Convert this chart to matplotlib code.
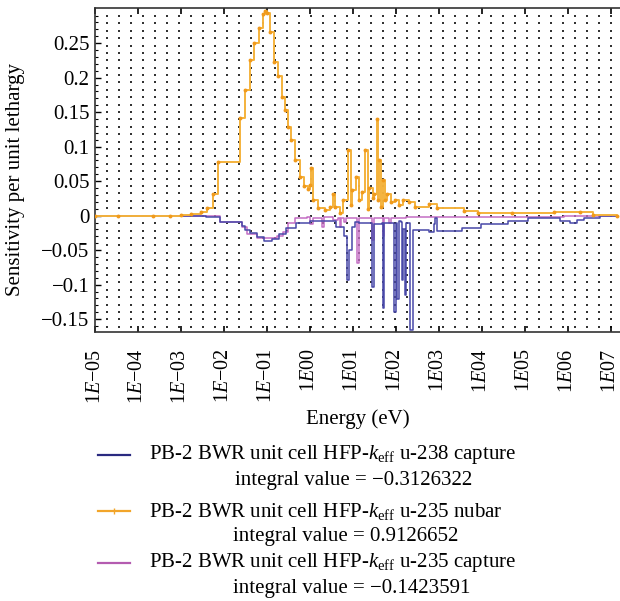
import numpy as np
import matplotlib
matplotlib.use('Agg')
import matplotlib.pyplot as plt
from matplotlib.lines import Line2D

plt.rcParams['font.family'] = 'Liberation Serif'
plt.rcParams['mathtext.fontset'] = 'custom'
plt.rcParams['mathtext.rm'] = 'Liberation Serif'
plt.rcParams['mathtext.it'] = 'Liberation Serif:italic'

# energies in eV, sensitivities per unit lethargy
nubar_e = [1e-05, 3.4e-05, 2.2e-04, 5.5e-04, 1.0e-03, 1.7e-03, 2.9e-03, 4.1e-03,
           5.5e-03, 7.3e-03, 2.4e-02, 3.1e-02, 4.0e-02, 5.0e-02, 6.4e-02, 8.2e-02,
           9.1e-02, 1.0e-01, 1.18e-01, 1.45e-01, 1.8e-01, 2.2e-01, 2.6e-01, 3.1e-01,
           3.6e-01, 4.6e-01, 6.0e-01, 7.4e-01, 9.1e-01, 1.0e00, 1.08e00, 1.17e00,
           1.5e00, 2.2e00, 2.9e00, 3.4e00, 3.8e00, 4.9e00, 5.8e00, 7.8e00,
           9.1e00, 9.6e00, 1.19e01, 1.4e01, 1.65e01, 1.9e01, 2.2e01, 2.4e01,
           2.9e01, 3.0e01, 3.6e01, 3.8e01, 4.1e01, 4.6e01, 5.1e01, 5.7e01,
           6.3e01, 7.5e01, 9.4e01, 1.17e02, 1.45e02, 2.0e02, 2.8e02, 6.0e02,
           9.0e02, 3.8e03, 8.2e03, 5.0e04, 4.8e05, 1.9e06, 3.8e06, 1.4e07]
nubar_s = [0.0, 0.0, 0.0, 0.0, 0.001, 0.003, 0.006, 0.011,
           0.031, 0.078, 0.141, 0.182, 0.225, 0.25, 0.272, 0.292,
           0.296, 0.294, 0.266, 0.223, 0.202, 0.172, 0.153, 0.129,
           0.11, 0.081, 0.056, 0.043, 0.039, 0.045, 0.069, 0.023,
           0.011, 0.008, 0.012, 0.032, 0.013, 0.004, 0.023, 0.095,
           0.016, 0.037, 0.056, 0.023, 0.034, 0.095, 0.01, 0.04,
           0.025, 0.032, 0.14, 0.023, 0.081, 0.012, 0.052, 0.022,
           0.032, 0.02, 0.023, 0.015, 0.022, 0.02, 0.013, 0.017,
           0.011, 0.007, 0.004, 0.004, 0.006, 0.005, 0.001, 0.0]

u238_e = [1e-05, 1.0e-03, 3.8e-03, 8.2e-03, 2.6e-02, 3.1e-02, 4.0e-02, 5.9e-02,
          8.6e-02, 1.3e-01, 1.9e-01, 2.7e-01, 4.7e-01, 1.0e00, 2.9e00, 4.1e00,
          6.3e00, 7.2e00, 8.2e00, 9.6e00, 1.1e01, 1.36e01, 2.5e01, 2.7e01,
          3.0e01, 4.7e01, 5.0e01, 5.3e01, 8.6e01, 9.1e01, 1.0e02, 1.08e02,
          1.2e02, 1.32e02, 1.38e02, 1.45e02, 1.6e02, 1.75e02, 2.15e02, 2.5e02,
          3.4e02, 6.0e02, 7.6e02, 8.2e02, 9.0e02, 3.4e03, 9.4e03, 4.1e04,
          1.2e05, 3.5e05, 6.7e05, 1.1e06, 1.6e06, 2.3e06, 5.5e06, 1.4e07]
u238_s = [-0.0005, -0.0008, -0.002, -0.0087, -0.015, -0.021, -0.025, -0.031,
          -0.036, -0.034, -0.026, -0.018, -0.011, -0.008, -0.008, -0.016,
          -0.030, -0.093, -0.05, -0.016, -0.009, -0.010, -0.010, -0.103,
          -0.012, -0.010, -0.134, -0.010, -0.010, -0.139, -0.010, -0.121,
          -0.008, -0.009, -0.093, -0.02, -0.115, -0.010, -0.166, -0.021,
          -0.021, -0.023, -0.012, -0.003, -0.022, -0.018, -0.012, -0.007,
          -0.004, -0.004, -0.007, -0.010, -0.006, -0.004, -0.0005, 0.0]

u235_e = [1e-05, 2.9e-03, 8.2e-03, 2.6e-02, 3.4e-02, 5.9e-02, 1.0e-01, 1.7e-01,
          2.4e-01, 3.1e-01, 4.6e-01, 8.4e-01, 1.0e00, 1.15e00, 1.9e00, 2.1e00,
          3.4e00, 4.6e00, 5.0e00, 5.4e00, 6.3e00, 7.0e00, 1.2e01, 1.25e01,
          1.4e01, 2.5e01, 2.7e01, 3.0e01, 4.7e01, 5.0e01, 5.3e01, 7.0e01,
          7.8e01, 9.9e01, 1.7e02, 2.5e03, 8.3e05, 1.4e07]
u235_s = [0.0, -0.001, -0.009, -0.016, -0.027, -0.033, -0.033, -0.030,
          -0.023, -0.011, -0.004, -0.002, -0.012, -0.003, -0.016, -0.002,
          -0.006, -0.003, -0.016, -0.004, -0.009, -0.003, -0.004, -0.069,
          -0.004, -0.004, -0.035, -0.004, -0.004, -0.030, -0.004, -0.011,
          -0.003, -0.003, -0.002, -0.002, -0.001, 0.0]

labels = [("PB-2 BWR unit cell HFP-$k_{\\mathrm{eff}}$ u-238 capture", "integral value = \u22120.3126322"),
          ("PB-2 BWR unit cell HFP-$k_{\\mathrm{eff}}$ u-235 nubar", "integral value = 0.9126652"),
          ("PB-2 BWR unit cell HFP-$k_{\\mathrm{eff}}$ u-235 capture", "integral value = \u22120.1423591")]
colors = ['#4848a8', '#f4b23c', '#c46ec4']
xticks = [10.0 ** k for k in range(-5, 8)]
xticklabels = ['1$E$\u2212%02d' % -k if k < 0 else '1$E$%02d' % k for k in range(-5, 8)]
yticks = [-0.15, -0.1, -0.05, 0, 0.05, 0.1, 0.15, 0.2, 0.25]
yticklabels = ['\u22120.15', '\u22120.1', '\u22120.05', '0', '0.05', '0.1', '0.15', '0.2', '0.25']

W, H = 620, 601
fig = plt.figure(figsize=(W / 100, H / 100), dpi=100)
ax = fig.add_axes([95 / W, 1 - 332 / H, (W - 95) / W, 324 / H])

# dotted lattice background
gx = np.arange(12, 526, 12) / 525
gy0 = (332 - 215.7) / 324
gy = np.concatenate([gy0 - np.arange(0, 16) * 7.4 / 324, gy0 + np.arange(1, 30) * 7.4 / 324])
gy = gy[(gy > 0.01) & (gy < 0.99)]
GX, GY = np.meshgrid(gx, gy)
ax.scatter(GX.ravel(), GY.ravel(), s=0.7, marker='s', color='#333333', linewidths=0,
           transform=ax.transAxes, zorder=0)

ax.plot(u238_e, u238_s, drawstyle='steps-post', color=colors[0], lw=1.1, zorder=3)
ax.plot(u235_e, u235_s, drawstyle='steps-post', color=colors[2], lw=1.1, zorder=2)
ax.plot(nubar_e, nubar_s, drawstyle='steps-post', color=colors[1], lw=1.4, zorder=4,
        marker='o', ms=2.8, mec='none', mfc='#f09a1c')

ax.set_xscale('log')
ax.set_xlim(1e-05, 10 ** 7.21)
ax.set_ylim(-0.1686, 0.301)
ax.set_xticks(xticks)
ax.set_xticklabels(xticklabels, rotation=90, fontsize=14.5)
ax.xaxis.set_minor_locator(matplotlib.ticker.NullLocator())
ax.set_yticks(yticks)
ax.set_yticklabels(yticklabels, fontsize=15)
ax.set_yticks(np.arange(-0.16, 0.30, 0.01), minor=True)
ax.tick_params(axis='x', which='major', direction='in', length=4, width=1.2, top=True, pad=12)
ax.tick_params(axis='y', which='major', direction='in', length=4, width=1, pad=4)
ax.tick_params(axis='y', which='minor', direction='in', length=2, width=0.8)
ax.spines['right'].set_visible(False)
for s in ['left', 'top', 'bottom']:
    ax.spines[s].set_linewidth(1.2)
    ax.spines[s].set_color('#333333')

ax.set_xlabel('Energy (eV)', fontsize=15, labelpad=4)
fig.text(16 / W, 1 - 180 / H, 'Sensitivity per unit lethargy', rotation=90,
         fontsize=15, ha='center', va='center')

# legend drawn below the axes
rows = [455, 511, 563]
second = [480, 536, 588]
xs2 = [235, 233, 233]
leg_colors = ['#2a2a80', '#f2a52a', '#b45cb0']
for i in range(3):
    fig.add_artist(Line2D([98 / W, 130 / W], [1 - rows[i] / H] * 2, color=leg_colors[i], lw=1.6,
                          transform=fig.transFigure))
    if i == 1:
        fig.add_artist(Line2D([114 / W], [1 - rows[i] / H], color=leg_colors[i], marker='|', ms=4,
                              transform=fig.transFigure))
    fig.text(149 / W, 1 - rows[i] / H, labels[i][0], fontsize=15, ha='left', va='center')
    fig.text(xs2[i] / W, 1 - second[i] / H, labels[i][1], fontsize=15, ha='left', va='center')

fig.savefig('out.png', dpi=100)
